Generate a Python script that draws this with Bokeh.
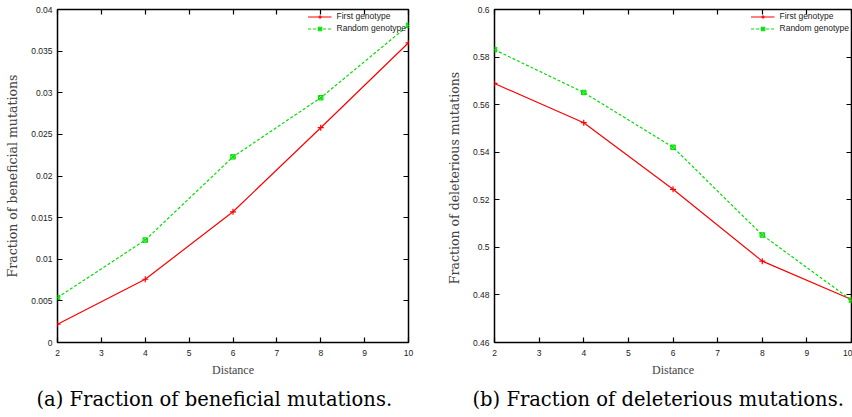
from bokeh.plotting import figure
from bokeh.layouts import row
from bokeh.models import (Range1d, FixedTicker, LinearAxis, Legend, LegendItem, Title,
                          CustomJSTickFormatter)
from bokeh.embed import file_html
from bokeh.resources import INLINE

distance = [2, 4, 6, 8, 10]

benef_first = [0.0022, 0.0076, 0.0157, 0.0258, 0.0360]
benef_random = [0.0054, 0.0123, 0.0223, 0.0294, 0.0381]

delet_first = [0.5689, 0.5524, 0.5244, 0.4942, 0.4781]
delet_random = [0.5831, 0.5651, 0.5421, 0.5052, 0.4778]

x_ticks = [2, 3, 4, 5, 6, 7, 8, 9, 10]
benef_ticks = [0, 0.005, 0.01, 0.015, 0.02, 0.025, 0.03, 0.035, 0.04]
benef_labels = ["0", "0.005", "0.01", "0.015", "0.02", "0.025", "0.03", "0.035", "0.04"]
delet_ticks = [0.46, 0.48, 0.5, 0.52, 0.54, 0.56, 0.58, 0.6]
delet_labels = ["0.46", "0.48", "0.5", "0.52", "0.54", "0.56", "0.58", "0.6"]

series_names = ["First genotype", "Random genotype"]
RED = "#ff0000"
GREEN = "#00e000"

TICK_FONT = "Liberation Sans"
SERIF = "DejaVu Serif"


def style_axis(ax, ticks, labels=None, show_labels=True):
    ax.ticker = FixedTicker(ticks=ticks)
    ax.major_tick_in = 5
    ax.major_tick_out = 0
    ax.minor_tick_line_color = None
    ax.major_tick_line_color = "black"
    ax.major_tick_line_width = 1.2
    ax.axis_line_color = None
    if labels is not None:
        ax.major_label_overrides = {t: l for t, l in zip(ticks, labels)}
    if show_labels:
        ax.major_label_text_font = TICK_FONT
        ax.major_label_text_font_size = "8.5px"
        ax.major_label_text_color = "#222222"
    else:
        ax.formatter = CustomJSTickFormatter(code="return ''")
        ax.major_label_standoff = 0


def make_panel(width, yrange, yticks, ylabels, ytitle, first, random, caption,
               min_left, min_right, caption_offset):
    p = figure(width=width, height=417, output_backend="svg", toolbar_location=None,
               x_range=Range1d(2, 10), y_range=Range1d(*yrange),
               min_border_left=min_left, min_border_right=min_right,
               min_border_top=9, min_border_bottom=75)
    p.grid.visible = False
    p.outline_line_color = "black"
    p.outline_line_width = 1.5
    p.background_fill_color = "white"
    p.border_fill_color = "white"

    style_axis(p.xaxis[0], x_ticks)
    style_axis(p.yaxis[0], yticks, ylabels)
    p.xaxis[0].major_label_standoff = 7
    p.yaxis[0].major_label_standoff = 5

    p.xaxis.axis_label = "Distance"
    p.xaxis.axis_label_text_font = "Liberation Serif"
    p.xaxis.axis_label_text_font_size = "12px"
    p.xaxis.axis_label_text_font_style = "normal"
    p.xaxis.axis_label_standoff = 4

    p.yaxis.axis_label = ytitle
    p.yaxis.axis_label_text_font = SERIF
    p.yaxis.axis_label_text_font_size = "12.5px"
    p.yaxis.axis_label_text_font_style = "normal"
    p.yaxis.axis_label_standoff = 8

    top = LinearAxis()
    style_axis(top, x_ticks, show_labels=False)
    p.add_layout(top, "above")
    right = LinearAxis()
    style_axis(right, yticks, show_labels=False)
    p.add_layout(right, "right")

    r1 = p.line(distance, first, line_color=RED, line_width=1.2)
    m1 = p.scatter(distance, first, marker="cross", size=6, line_color=RED, line_width=1.2)
    r2 = p.line(distance, random, line_color=GREEN, line_width=1.2, line_dash="3 2")
    m2 = p.scatter(distance, random, marker="square_x", size=4.5, line_color=GREEN,
                   fill_color=GREEN, fill_alpha=0.5, line_width=1)

    legend = Legend(items=[LegendItem(label=series_names[0], renderers=[r1, m1]),
                           LegendItem(label=series_names[1], renderers=[r2, m2])],
                    location="top_right")
    legend.background_fill_alpha = 0
    legend.border_line_color = None
    legend.label_text_font = TICK_FONT
    legend.label_text_font_size = "8.5px"
    legend.label_text_color = "#222222"
    legend.glyph_width = 24
    legend.glyph_height = 9
    legend.label_height = 9
    legend.spacing = 2
    legend.padding = 4
    legend.margin = 2
    p.add_layout(legend)

    cap = Title(text=caption, align="left", offset=caption_offset,
                text_font=SERIF, text_font_size="19.5px", text_font_style="normal",
                text_color="black", standoff=13)
    p.add_layout(cap, "below")
    return p


p1 = make_panel(430, (0, 0.04), benef_ticks, benef_labels,
                "Fraction of beneficial mutations", benef_first, benef_random,
                "(a) Fraction of beneficial mutations.", 57, 22, -21)
p2 = make_panel(422, (0.46, 0.6), delet_ticks, delet_labels,
                "Fraction of deleterious  mutations", delet_first, delet_random,
                "(b) Fraction of deleterious mutations.", 64, 1, -22)

layout = row(p1, p2, spacing=0)
open("out.html", "w").write(file_html(layout, INLINE))
